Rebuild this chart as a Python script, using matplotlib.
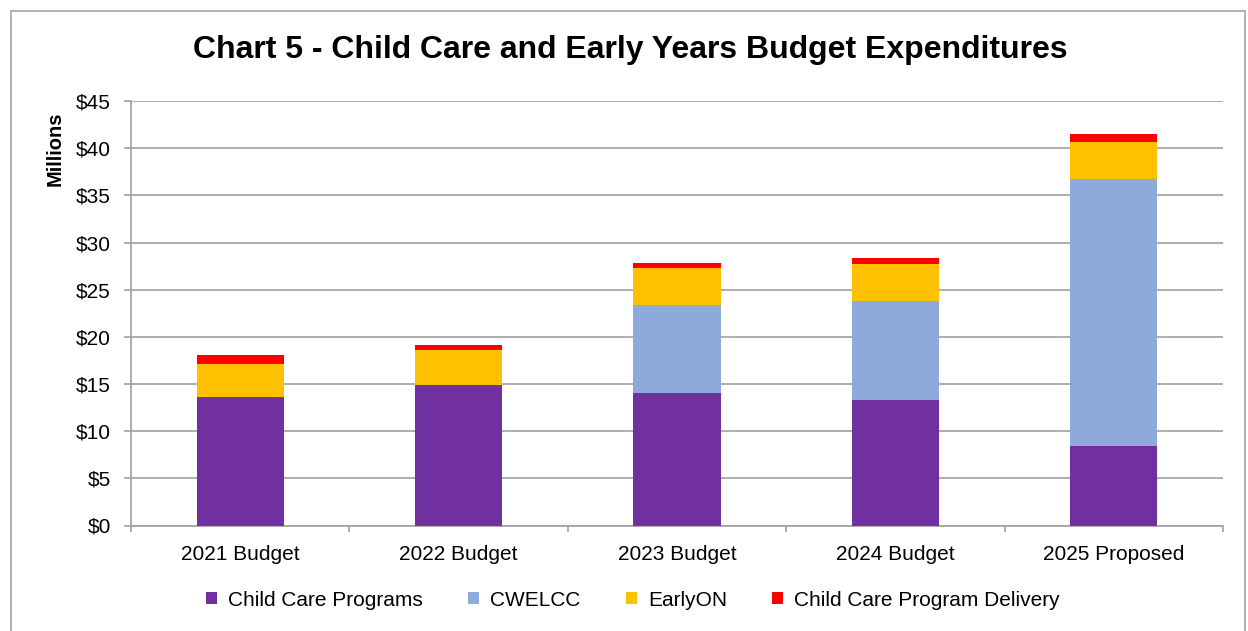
import matplotlib.pyplot as plt
import numpy as np
from matplotlib.patches import Rectangle

plt.rcParams['font.family'] = ['Liberation Sans', 'DejaVu Sans']

############################################################
# Datos (millones)
############################################################

categorias = ['2021 Budget', '2022 Budget', '2023 Budget',
              '2024 Budget', '2025 Proposed']

child_care_programs = [13.6, 14.86, 14.0, 13.3, 8.46]
cwelcc = [0.0, 0.0, 9.4, 10.53, 28.31]
early_on = [3.55, 3.71, 3.89, 3.89, 3.92]
program_delivery = [0.92, 0.56, 0.56, 0.67, 0.78]

series = [
    ('Child Care Programs', child_care_programs, '#7030a0'),
    ('CWELCC', cwelcc, '#8eaadb'),
    ('EarlyON', early_on, '#ffc000'),
    ('Child Care Program Delivery', program_delivery, '#ff0000'),
]

############################################################
# Figura
############################################################

fig = plt.figure(figsize=(12.48, 6.31), dpi=100)
ax = fig.add_axes([131 / 1248, 1 - 525.5 / 631, 1092 / 1248, 424.5 / 631])

# borde exterior
fig.patches.append(Rectangle((11 / 1248, -0.05), 1234 / 1248, 1.05 - 11 / 631,
                             transform=fig.transFigure, fill=False,
                             edgecolor='#a6a6a6', linewidth=1.2))

x = np.arange(len(categorias))
base = np.zeros(len(categorias))

for nombre, valores, color in series:
    ax.bar(x, valores, width=0.4, bottom=base, color=color,
           label=nombre, zorder=3)
    base = base + np.array(valores)

ax.set_xlim(-0.5, len(categorias) - 0.5)
ax.set_ylim(0, 45)
ax.set_yticks(np.arange(0, 46, 5))
ax.set_yticklabels([f'${v}' for v in range(0, 46, 5)])
ax.set_xticks(x)
ax.set_xticklabels(categorias)
ax.set_xticks(np.arange(-0.5, len(categorias), 1), minor=True)

ax.grid(axis='y', color='#a0a0a0', linewidth=1.2, zorder=0)
ax.tick_params(axis='x', which='major', length=0, labelsize=15, pad=14)
ax.tick_params(axis='x', which='minor', length=4, color='#a0a0a0', width=1.2)
ax.tick_params(axis='y', length=5, color='#a0a0a0', width=1.2,
               labelsize=15, pad=9.5)

for lado in ['top', 'right']:
    ax.spines[lado].set_visible(False)
for lado in ['left', 'bottom']:
    ax.spines[lado].set_color('#a0a0a0')
    ax.spines[lado].set_linewidth(1.2)

ax.set_ylabel('Millions', fontsize=14.5, fontweight='bold')
ax.yaxis.set_label_coords(-0.0604, 0.887)

fig.text(630.5 / 1248, 1 - 50 / 631,
         'Chart 5 - Child Care and Early Years Budget Expenditures',
         ha='center', va='center', fontsize=23, fontweight='bold')

fig.legend(loc='center', bbox_to_anchor=(633 / 1248, 1 - 600 / 631),
           ncol=4, frameon=False, fontsize=15, handlelength=0.53,
           handleheight=0.53, handletextpad=0.53, columnspacing=2.16)

fig.savefig('out.png', dpi=100)
